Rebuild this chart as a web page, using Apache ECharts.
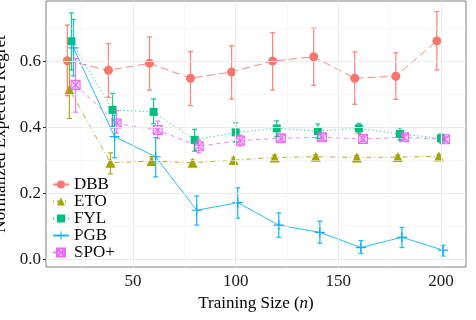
<!DOCTYPE html>
<html>
<head>
<meta charset="utf-8">
<script src="https://cdn.jsdelivr.net/npm/echarts@6/dist/echarts.min.js"></script>
<style>
  html,body{margin:0;padding:0;background:#fff}
  #box{width:476px;height:320px}
</style>
</head>
<body>
<div id="box"></div>
<script>
// data
var trainSizes = [20, 40, 60, 80, 100, 120, 140, 160, 180, 200];
var methods = ['DBB', 'ETO', 'FYL', 'PGB', 'SPO+'];

var dbbMean = [0.601, 0.572, 0.593, 0.548, 0.567, 0.600, 0.613, 0.548, 0.554, 0.661];
var dbbLow  = [0.495, 0.490, 0.512, 0.465, 0.485, 0.512, 0.526, 0.469, 0.484, 0.573];
var dbbHigh = [0.709, 0.653, 0.673, 0.629, 0.646, 0.686, 0.700, 0.628, 0.625, 0.750];

var etoMean = [0.514, 0.292, 0.297, 0.292, 0.300, 0.308, 0.310, 0.308, 0.309, 0.311];
var etoLow  = [0.426, 0.258, 0.284, 0.284, 0.292, 0.301, 0.304, 0.302, 0.303, 0.305];
var etoHigh = [0.600, 0.322, 0.310, 0.300, 0.308, 0.315, 0.316, 0.314, 0.315, 0.317];

var fylMean = [0.660, 0.452, 0.446, 0.361, 0.384, 0.396, 0.388, 0.396, 0.379, 0.366];
var fylLow  = [0.573, 0.401, 0.410, 0.327, 0.354, 0.371, 0.366, 0.381, 0.361, 0.352];
var fylHigh = [0.746, 0.502, 0.485, 0.393, 0.413, 0.419, 0.409, 0.411, 0.398, 0.379];

var pgbMean = [0.640, 0.371, 0.310, 0.148, 0.171, 0.103, 0.081, 0.035, 0.066, 0.027];
var pgbLow  = [0.555, 0.307, 0.249, 0.103, 0.124, 0.066, 0.048, 0.017, 0.035, 0.009];
var pgbHigh = [0.726, 0.436, 0.368, 0.191, 0.216, 0.140, 0.115, 0.056, 0.096, 0.042];

var spoMean = [0.528, 0.411, 0.391, 0.342, 0.359, 0.366, 0.369, 0.364, 0.369, 0.363];
var spoLow  = [0.445, 0.382, 0.366, 0.322, 0.343, 0.356, 0.359, 0.356, 0.360, 0.355];
var spoHigh = [0.608, 0.450, 0.418, 0.361, 0.376, 0.377, 0.380, 0.373, 0.378, 0.371];

var xTicks = [50, 100, 150, 200];
var xMinor = [25, 75, 125, 175];
var yTicks = [0, 0.2, 0.4, 0.6];
var yMinor = [0.1, 0.3, 0.5, 0.7];

var serif = 'Liberation Serif';
var colors = ['#F8766D', '#A3A500', '#00BF7D', '#00B0F6', '#E76BF3'];
var dodge = [-2, -1, 0, 1, 2];
var means = [dbbMean, etoMean, fylMean, pgbMean, spoMean];
var lows = [dbbLow, etoLow, fylLow, pgbLow, spoLow];
var highs = [dbbHigh, etoHigh, fylHigh, pgbHigh, spoHigh];
var dashes = [[8, 4], [1, 3, 5, 3], [1.2, 2.6], 'solid', [4, 4]];
var symbols = [
  'circle',
  'triangle',
  'rect',
  'path://M4.4,0H5.6V4.4H10V5.6H5.6V10H4.4V5.6H0V4.4H4.4Z',
  'path://M0,0H10V10H0Z M0,0L10,10 M10,0L0,10'
];
var symSizes = [9, 10, 8, 10, 9];

function errRender(color) {
  return function (params, api) {
    var x = api.value(0);
    var lo = api.coord([x, api.value(1)]);
    var hi = api.coord([x, api.value(2)]);
    var w = 2.5;
    var st = {stroke: color, lineWidth: 1.3, opacity: 0.85};
    return {
      type: 'group',
      children: [
        {type: 'line', shape: {x1: lo[0], y1: lo[1], x2: hi[0], y2: hi[1]}, style: st},
        {type: 'line', shape: {x1: lo[0] - w, y1: lo[1], x2: lo[0] + w, y2: lo[1]}, style: st},
        {type: 'line', shape: {x1: hi[0] - w, y1: hi[1], x2: hi[0] + w, y2: hi[1]}, style: st}
      ]
    };
  };
}

var series = [];
// background grid lines
series.push({
  type: 'line', data: [], silent: true, z: 0,
  markLine: {
    silent: true, symbol: 'none', label: {show: false}, animation: false,
    data: xTicks.map(function (v) { return {xAxis: v, lineStyle: {color: '#ebebeb', width: 1.1, type: 'solid'}}; })
      .concat(xMinor.map(function (v) { return {xAxis: v, lineStyle: {color: '#f2f2f2', width: 0.6, type: 'solid'}}; }))
      .concat(yTicks.map(function (v) { return {yAxis: v, lineStyle: {color: '#ebebeb', width: 1.1, type: 'solid'}}; }))
      .concat(yMinor.map(function (v) { return {yAxis: v, lineStyle: {color: '#f2f2f2', width: 0.6, type: 'solid'}}; }))
  }
});

for (var m = 0; m < methods.length; m++) {
  var pts = [], errs = [];
  for (var i = 0; i < trainSizes.length; i++) {
    var xx = trainSizes[i] + dodge[m];
    pts.push([xx, means[m][i]]);
    errs.push([xx, lows[m][i], highs[m][i]]);
  }
  var isSpo = methods[m] === 'SPO+';
  series.push({
    name: methods[m],
    type: 'line',
    data: pts,
    z: 3,
    symbol: symbols[m],
    symbolSize: symSizes[m],
    showAllSymbol: true,
    lineStyle: {color: colors[m], width: 1, type: dashes[m], opacity: 0.85},
    itemStyle: isSpo ? {color: 'rgba(231,107,243,0.25)', borderColor: colors[m], borderWidth: 1.1} : {color: colors[m]},
    emphasis: {disabled: true}
  });
  series.push({
    name: methods[m] + ' err',
    type: 'custom',
    data: errs,
    z: 4,
    encode: {x: 0, y: [1, 2]},
    renderItem: errRender(colors[m])
  });
}

var myChart = echarts.init(document.getElementById('box'));
var option = {
  animation: false,
  backgroundColor: '#fff',
  grid: {left: 46, right: 10, top: 1, bottom: 53, outerBoundsMode: 'none', containLabel: false,
    show: true, borderColor: '#7f7f7f', borderWidth: 1, backgroundColor: '#fff'},
  legend: {
    data: methods,
    orient: 'vertical',
    left: 48, top: 174,
    padding: [2, 4, 2, 4],
    backgroundColor: '#fff',
    itemWidth: 16, itemHeight: 10, itemGap: 0,
    textStyle: {fontFamily: serif, fontSize: 17, color: '#000', lineHeight: 16}
  },
  xAxis: {
    type: 'value', min: 7.6, max: 212.2,
    axisLine: {show: false},
    splitLine: {show: false},
    axisTick: {show: true, customValues: xTicks, length: 3, lineStyle: {color: '#333'}},
    axisLabel: {customValues: xTicks, margin: 6, fontFamily: serif, fontSize: 17, color: '#1a1a1a'},
    name: 'Training Size ({i|n})',
    nameLocation: 'middle', nameGap: 25,
    nameTextStyle: {fontFamily: serif, fontSize: 17, color: '#000',
      rich: {i: {fontFamily: serif, fontSize: 17, fontStyle: 'italic', color: '#000'}}}
  },
  yAxis: {
    type: 'value', min: -0.024, max: 0.782,
    axisLine: {show: false},
    splitLine: {show: false},
    axisTick: {show: true, customValues: yTicks, length: 3, lineStyle: {color: '#333'}},
    axisLabel: {customValues: yTicks, margin: 5, fontFamily: serif, fontSize: 17, color: '#1a1a1a',
      formatter: function (v) { return v.toFixed(1); }},
    name: 'Normalized Expected Regret',
    nameLocation: 'middle', nameGap: 27,
    nameTextStyle: {fontFamily: serif, fontSize: 17, color: '#000'}
  },
  series: series
};
myChart.setOption(option);
</script>
</body>
</html>
